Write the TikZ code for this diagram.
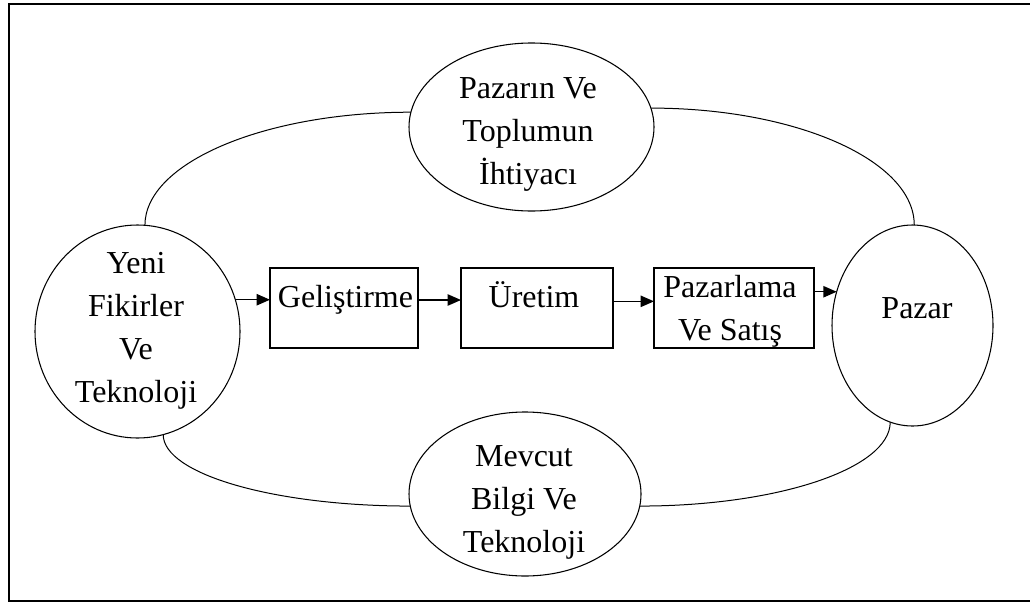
\documentclass[tikz,border=0pt]{standalone}
\usepackage{fontspec}
\setmainfont{Liberation Serif}
\usetikzlibrary{shapes.geometric,arrows.meta,calc}
\begin{document}
\begin{tikzpicture}[x=0.75pt,y=-0.75pt,
  bubble/.style={draw,ellipse,line width=0.8pt,inner sep=0pt,outer sep=0pt},
  stepbox/.style={draw,rectangle,line width=0.9pt,inner sep=0pt,outer sep=0pt,minimum height=60pt},
  txt/.style={font=\fontsize{24}{32.25}\selectfont,align=center,inner sep=0pt},
  word/.style={font=\fontsize{24}{32.25}\selectfont,inner sep=0pt,anchor=base},
  flow/.style={-{Triangle[length=10pt,width=8.5pt]},line width=1pt},
  link/.style={line width=0.75pt},
  frame/.style={line width=1.8pt}]

\useasboundingbox (0,0) rectangle (1030,603);

% outer frame (its right side runs off the page)
\begin{scope}
  \clip (0,0) rectangle (1030,603);
  \draw[frame] (9,4) rectangle (1040,601);
\end{scope}

% ellipses and their labels
\node[bubble,minimum width=183.75pt,minimum height=126pt] (need) at (531.5,127) {};
\node[txt] (needtext) at (528,134) {Pazarın Ve\\Toplumun\\İhtiyacı};

\node[bubble,minimum width=153.75pt,minimum height=159.75pt] (yeni) at (137.5,331.5) {};
\node[txt] (yenitext) at (136,331) {Yeni\\Fikirler\\Ve\\Teknoloji};

\node[bubble,minimum width=120.75pt,minimum height=150.75pt] (pazar) at (912.5,325.5) {};
\node[word] (pazartext) at (917,318) {Pazar};

\node[bubble,minimum width=174pt,minimum height=123pt] (known) at (525,494) {};
\node[txt] (knowntext) at (524,502) {Mevcut\\Bilgi Ve\\Teknoloji};

% process boxes
\node[stepbox,minimum width=111pt] (dev) at (344,308) {};
\node[word] (devtext) at (345.5,307) {Geliştirme};
\node[stepbox,minimum width=114pt] (make) at (537,308) {};
\node[word] (maketext) at (534,307) {Üretim};
\node[stepbox,minimum width=120pt] (sell) at (734,308) {};
\node[txt] (selltext) at (730,311) {Pazarlama\\Ve Satış};

% flow arrows
\draw[flow] (yeni.18) -- (yeni.18 -| dev.west);
\draw[flow] ([yshift=6pt]dev.east) -- ([yshift=6pt]make.west);
\draw[flow] ([yshift=5pt]make.east) -- ([yshift=5pt]sell.west);
\draw[flow] (sell.east |- pazar.156) -- (pazar.156);

% outer links (quarter-ellipse curves)
\draw[link] (yeni.86) .. controls ($(yeni.86)!0.552!(yeni.86|-need.173)$) and ($(need.173)!0.552!(yeni.86|-need.173)$) .. (need.173);
\draw[link] (need.9) .. controls ($(need.9)!0.552!(pazar.89|-need.9)$) and ($(pazar.89)!0.552!(pazar.89|-need.9)$) .. (pazar.89);
\draw[link] (yeni.-76) .. controls ($(yeni.-76)!0.552!(yeni.-76|-known.186)$) and ($(known.186)!0.552!(yeni.-76|-known.186)$) .. (known.186);
\draw[link] (known.-6) .. controls ($(known.-6)!0.552!(pazar.-103|-known.-6)$) and ($(pazar.-103)!0.552!(pazar.-103|-known.-6)$) .. (pazar.-103);

\end{tikzpicture}
\end{document}
